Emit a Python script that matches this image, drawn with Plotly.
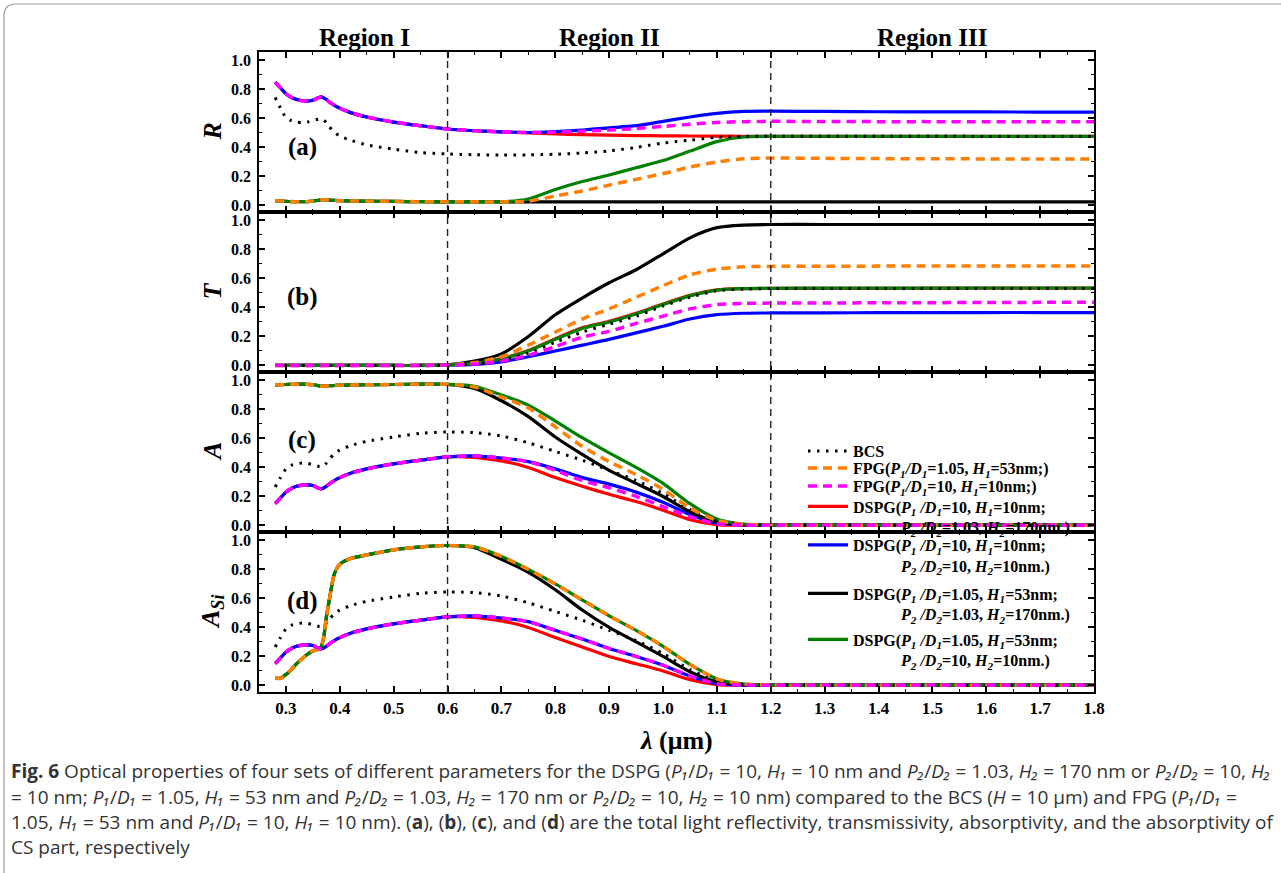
import plotly.graph_objects as go
from plotly.subplots import make_subplots

# ---------------- data ----------------
LAM = [0.28, 0.29, 0.30, 0.31, 0.32, 0.33, 0.34, 0.35, 0.36, 0.365, 0.37, 0.375, 0.38, 0.39,
       0.40, 0.42, 0.45, 0.50, 0.55, 0.60, 0.65, 0.70, 0.75, 0.80, 0.85, 0.90, 0.95, 1.00,
       1.05, 1.10, 1.15, 1.20, 1.30, 1.40, 1.50, 1.60, 1.70, 1.80]

# (a) reflectivity R
R_BCS = [0.745, 0.67, 0.607, 0.585, 0.575, 0.572, 0.575, 0.585, 0.595, 0.597, 0.59, 0.57, 0.545, 0.505,
         0.478, 0.45, 0.418, 0.388, 0.365, 0.355, 0.35, 0.348, 0.349, 0.353, 0.362, 0.376, 0.40, 0.43,
         0.45, 0.47, 0.476, 0.477, 0.477, 0.477, 0.477, 0.476, 0.476, 0.476]
R_FPG1 = [0.032, 0.03, 0.028, 0.027, 0.026, 0.026, 0.027, 0.03, 0.036, 0.04, 0.04, 0.039, 0.037, 0.035,
          0.033, 0.031, 0.03, 0.028, 0.026, 0.025, 0.025, 0.025, 0.03, 0.065, 0.10, 0.14, 0.18, 0.22,
          0.265, 0.30, 0.322, 0.327, 0.325, 0.323, 0.322, 0.321, 0.32, 0.32]
R_FPG2 = [0.85, 0.81, 0.77, 0.745, 0.73, 0.722, 0.72, 0.725, 0.742, 0.748, 0.742, 0.73, 0.715, 0.69,
          0.67, 0.64, 0.61, 0.575, 0.55, 0.527, 0.515, 0.508, 0.503, 0.505, 0.512, 0.52, 0.53, 0.545,
          0.56, 0.572, 0.578, 0.58, 0.579, 0.578, 0.578, 0.577, 0.577, 0.577]
R_DSPG_R = [0.85, 0.81, 0.77, 0.745, 0.73, 0.722, 0.72, 0.725, 0.742, 0.748, 0.742, 0.73, 0.715, 0.69,
            0.67, 0.64, 0.61, 0.575, 0.55, 0.527, 0.515, 0.508, 0.50, 0.493, 0.488, 0.485, 0.482, 0.48,
            0.479, 0.478, 0.477, 0.477, 0.477, 0.477, 0.476, 0.476, 0.476, 0.476]
R_DSPG_B = [0.85, 0.81, 0.77, 0.745, 0.73, 0.722, 0.72, 0.725, 0.742, 0.748, 0.742, 0.73, 0.715, 0.69,
            0.67, 0.64, 0.61, 0.575, 0.55, 0.527, 0.515, 0.508, 0.503, 0.51, 0.52, 0.535, 0.55, 0.58,
            0.61, 0.635, 0.648, 0.65, 0.648, 0.646, 0.645, 0.645, 0.644, 0.644]
R_DSPG_K = [0.032, 0.03, 0.028, 0.027, 0.026, 0.026, 0.027, 0.03, 0.036, 0.04, 0.04, 0.039, 0.037, 0.035,
            0.033, 0.031, 0.03, 0.028, 0.026, 0.025, 0.025, 0.025, 0.025, 0.025, 0.025, 0.025, 0.025, 0.025,
            0.025, 0.025, 0.025, 0.025, 0.025, 0.025, 0.025, 0.025, 0.025, 0.025]
R_DSPG_G = [0.032, 0.03, 0.028, 0.027, 0.026, 0.026, 0.027, 0.03, 0.036, 0.04, 0.04, 0.039, 0.037, 0.035,
            0.033, 0.031, 0.03, 0.028, 0.026, 0.025, 0.025, 0.025, 0.045, 0.11, 0.165, 0.21, 0.26, 0.31,
            0.375, 0.44, 0.472, 0.477, 0.477, 0.477, 0.476, 0.476, 0.476, 0.476]

# (b) transmissivity T
T_BCS = [0.0, 0.0, 0.0, 0.0, 0.0, 0.0, 0.0, 0.0, 0.0, 0.0, 0.0, 0.0, 0.0, 0.0, 0.0, 0.0, 0.0, 0.0, 0.0,
         0.003, 0.01, 0.035, 0.085, 0.16, 0.23, 0.285, 0.34, 0.41, 0.47, 0.515, 0.527, 0.53, 0.53,
         0.53, 0.53, 0.53, 0.53, 0.53]
T_FPG1 = [0.0, 0.0, 0.0, 0.0, 0.0, 0.0, 0.0, 0.0, 0.0, 0.0, 0.0, 0.0, 0.0, 0.0, 0.0, 0.0, 0.0, 0.0, 0.0,
          0.004, 0.02, 0.06, 0.14, 0.23, 0.32, 0.39, 0.47, 0.55, 0.625, 0.665, 0.68, 0.683, 0.684,
          0.685, 0.686, 0.686, 0.686, 0.686]
T_FPG2 = [0.0, 0.0, 0.0, 0.0, 0.0, 0.0, 0.0, 0.0, 0.0, 0.0, 0.0, 0.0, 0.0, 0.0, 0.0, 0.0, 0.0, 0.0, 0.0,
          0.003, 0.01, 0.03, 0.07, 0.13, 0.195, 0.235, 0.29, 0.34, 0.39, 0.42, 0.428, 0.43, 0.431,
          0.432, 0.433, 0.434, 0.435, 0.435]
T_DSPG_R = [0.0, 0.0, 0.0, 0.0, 0.0, 0.0, 0.0, 0.0, 0.0, 0.0, 0.0, 0.0, 0.0, 0.0, 0.0, 0.0, 0.0, 0.0, 0.0,
            0.004, 0.016, 0.047, 0.103, 0.185, 0.26, 0.305, 0.36, 0.424, 0.483, 0.521, 0.53, 0.532, 0.532,
            0.532, 0.533, 0.533, 0.533, 0.533]
T_DSPG_B = [0.0, 0.0, 0.0, 0.0, 0.0, 0.0, 0.0, 0.0, 0.0, 0.0, 0.0, 0.0, 0.0, 0.0, 0.0, 0.0, 0.0, 0.0, 0.0,
            0.003, 0.008, 0.025, 0.06, 0.10, 0.14, 0.18, 0.225, 0.27, 0.32, 0.35, 0.36, 0.362, 0.363,
            0.364, 0.364, 0.365, 0.365, 0.365]
T_DSPG_K = [0.0, 0.0, 0.0, 0.0, 0.0, 0.0, 0.0, 0.0, 0.0, 0.0, 0.0, 0.0, 0.0, 0.0, 0.0, 0.0, 0.0, 0.0, 0.0,
            0.005, 0.03, 0.08, 0.20, 0.35, 0.465, 0.57, 0.66, 0.77, 0.88, 0.95, 0.968, 0.972, 0.972,
            0.972, 0.972, 0.972, 0.972, 0.972]
T_DSPG_G = [0.0, 0.0, 0.0, 0.0, 0.0, 0.0, 0.0, 0.0, 0.0, 0.0, 0.0, 0.0, 0.0, 0.0, 0.0, 0.0, 0.0, 0.0, 0.0,
            0.004, 0.015, 0.045, 0.10, 0.18, 0.255, 0.30, 0.355, 0.42, 0.48, 0.52, 0.53, 0.532, 0.533,
            0.533, 0.533, 0.534, 0.534, 0.534]

# (c) absorptivity A
A_BCS = [0.265, 0.33, 0.39, 0.415, 0.425, 0.43, 0.428, 0.418, 0.408, 0.405, 0.41, 0.43, 0.455, 0.495,
         0.52, 0.55, 0.58, 0.61, 0.635, 0.645, 0.64, 0.617, 0.57, 0.51, 0.45, 0.38, 0.31, 0.22,
         0.11, 0.03, 0.006, 0.003, 0.002, 0.002, 0.002, 0.002, 0.002, 0.002]
A_FPG1 = [0.968, 0.97, 0.972, 0.973, 0.974, 0.974, 0.973, 0.97, 0.964, 0.96, 0.96, 0.961, 0.963, 0.965,
          0.967, 0.969, 0.97, 0.972, 0.974, 0.973, 0.955, 0.885, 0.81, 0.68, 0.545, 0.44, 0.35, 0.25,
          0.12, 0.035, 0.008, 0.003, 0.002, 0.002, 0.002, 0.002, 0.002, 0.002]
A_FPG2 = [0.15, 0.19, 0.23, 0.255, 0.27, 0.278, 0.28, 0.275, 0.258, 0.252, 0.258, 0.27, 0.285, 0.31,
          0.33, 0.36, 0.39, 0.425, 0.45, 0.473, 0.48, 0.465, 0.44, 0.38, 0.31, 0.26, 0.20, 0.13,
          0.06, 0.012, 0.003, 0.002, 0.002, 0.002, 0.002, 0.002, 0.002, 0.002]
A_DSPG_R = [0.15, 0.19, 0.23, 0.255, 0.27, 0.278, 0.28, 0.275, 0.258, 0.252, 0.258, 0.27, 0.285, 0.31,
            0.33, 0.36, 0.39, 0.425, 0.45, 0.473, 0.47, 0.445, 0.40, 0.33, 0.27, 0.215, 0.165, 0.105,
            0.04, 0.006, 0.002, 0.002, 0.002, 0.002, 0.002, 0.002, 0.002, 0.002]
A_DSPG_B = [0.15, 0.19, 0.23, 0.255, 0.27, 0.278, 0.28, 0.275, 0.258, 0.252, 0.258, 0.27, 0.285, 0.31,
            0.33, 0.36, 0.39, 0.425, 0.45, 0.473, 0.48, 0.465, 0.44, 0.39, 0.33, 0.285, 0.23, 0.16,
            0.075, 0.015, 0.004, 0.002, 0.002, 0.002, 0.002, 0.002, 0.002, 0.002]
A_DSPG_K = [0.968, 0.97, 0.972, 0.973, 0.974, 0.974, 0.973, 0.97, 0.964, 0.96, 0.96, 0.961, 0.963, 0.965,
            0.967, 0.969, 0.97, 0.972, 0.974, 0.973, 0.945, 0.86, 0.75, 0.61, 0.49, 0.38, 0.29, 0.20,
            0.095, 0.025, 0.006, 0.003, 0.002, 0.002, 0.002, 0.002, 0.002, 0.002]
A_DSPG_G = [0.968, 0.97, 0.972, 0.973, 0.974, 0.974, 0.973, 0.97, 0.964, 0.96, 0.96, 0.961, 0.963, 0.965,
            0.967, 0.969, 0.97, 0.972, 0.974, 0.973, 0.96, 0.90, 0.83, 0.72, 0.605, 0.50, 0.40, 0.29,
            0.15, 0.045, 0.01, 0.003, 0.002, 0.002, 0.002, 0.002, 0.002, 0.002]

# (d) absorptivity of CS part A_Si
AS_BCS = [0.265, 0.33, 0.39, 0.415, 0.425, 0.43, 0.428, 0.418, 0.408, 0.405, 0.41, 0.43, 0.455, 0.495,
          0.52, 0.55, 0.58, 0.61, 0.635, 0.645, 0.64, 0.617, 0.57, 0.51, 0.45, 0.38, 0.31, 0.22,
          0.11, 0.03, 0.006, 0.003, 0.002, 0.002, 0.002, 0.002, 0.002, 0.002]
AS_FPG1 = [0.05, 0.05, 0.075, 0.11, 0.15, 0.185, 0.215, 0.238, 0.25, 0.265, 0.33, 0.47, 0.58, 0.77,
           0.835, 0.875, 0.90, 0.935, 0.955, 0.965, 0.955, 0.89, 0.80, 0.70, 0.59, 0.48, 0.38, 0.27,
           0.145, 0.045, 0.01, 0.003, 0.002, 0.002, 0.002, 0.002, 0.002, 0.002]
AS_FPG2 = [0.15, 0.19, 0.23, 0.255, 0.27, 0.278, 0.28, 0.275, 0.258, 0.252, 0.258, 0.27, 0.285, 0.31,
           0.33, 0.36, 0.39, 0.425, 0.45, 0.473, 0.48, 0.465, 0.44, 0.38, 0.32, 0.255, 0.20, 0.14,
           0.065, 0.012, 0.003, 0.002, 0.002, 0.002, 0.002, 0.002, 0.002, 0.002]
AS_DSPG_R = [0.15, 0.19, 0.23, 0.255, 0.27, 0.278, 0.28, 0.275, 0.258, 0.252, 0.258, 0.27, 0.285, 0.31,
             0.33, 0.36, 0.39, 0.425, 0.45, 0.473, 0.47, 0.445, 0.40, 0.33, 0.265, 0.20, 0.15, 0.10,
             0.04, 0.006, 0.002, 0.002, 0.002, 0.002, 0.002, 0.002, 0.002, 0.002]
AS_DSPG_B = [0.15, 0.19, 0.23, 0.255, 0.27, 0.278, 0.28, 0.275, 0.258, 0.252, 0.258, 0.27, 0.285, 0.31,
             0.33, 0.36, 0.39, 0.425, 0.45, 0.473, 0.48, 0.465, 0.44, 0.38, 0.32, 0.255, 0.20, 0.14,
             0.065, 0.012, 0.003, 0.002, 0.002, 0.002, 0.002, 0.002, 0.002, 0.002]
AS_DSPG_K = [0.05, 0.05, 0.075, 0.11, 0.15, 0.185, 0.215, 0.238, 0.25, 0.265, 0.33, 0.47, 0.58, 0.77,
             0.835, 0.875, 0.90, 0.935, 0.955, 0.965, 0.95, 0.87, 0.78, 0.66, 0.52, 0.40, 0.30, 0.20,
             0.095, 0.025, 0.006, 0.003, 0.002, 0.002, 0.002, 0.002, 0.002, 0.002]
AS_DSPG_G = [0.05, 0.05, 0.075, 0.11, 0.15, 0.185, 0.215, 0.238, 0.25, 0.265, 0.33, 0.47, 0.58, 0.77,
             0.835, 0.875, 0.90, 0.935, 0.955, 0.965, 0.955, 0.89, 0.80, 0.70, 0.59, 0.48, 0.38, 0.27,
             0.145, 0.045, 0.01, 0.003, 0.002, 0.002, 0.002, 0.002, 0.002, 0.002]

REGION_BOUNDS = [0.6, 1.2]
REGION_NAMES = ["Region I", "Region II", "Region III"]
REGION_CENTERS = [0.445, 0.9, 1.5]
PANEL_LETTERS = ["(a)", "(b)", "(c)", "(d)"]
PANEL_LETTER_Y = [0.40, 0.47, 0.59, 0.58]
Y_TITLES = ["<i>R</i>", "<i>T</i>", "<i>A</i>", "<i>A</i><sub><i>Si</i></sub>"]

NB = "\u00a0"
IND = NB * 12
LEG_NAMES = {
    "BCS": "BCS",
    "FPG1": "FPG(<i>P<sub>1</sub>/D<sub>1</sub></i>=1.05, <i>H<sub>1</sub></i>=53nm;)",
    "FPG2": "FPG(<i>P<sub>1</sub>/D<sub>1</sub></i>=10, <i>H<sub>1</sub></i>=10nm;)",
    "DR": "DSPG(<i>P<sub>1</sub> /D<sub>1</sub></i>=10, <i>H<sub>1</sub></i>=10nm;<br>" + IND +
          "<i>P<sub>2</sub> /D<sub>2</sub></i>=1.03, <i>H<sub>2</sub></i>=170nm.)",
    "DB": "DSPG(<i>P<sub>1</sub> /D<sub>1</sub></i>=10, <i>H<sub>1</sub></i>=10nm;<br>" + IND +
          "<i>P<sub>2</sub> /D<sub>2</sub></i>=10, <i>H<sub>2</sub></i>=10nm.)",
    "DK": "DSPG(<i>P<sub>1</sub> /D<sub>1</sub></i>=1.05, <i>H<sub>1</sub></i>=53nm;<br>" + IND +
          "<i>P<sub>2</sub> /D<sub>2</sub></i>=1.03, <i>H<sub>2</sub></i>=170nm.)",
    "DG": "DSPG(<i>P<sub>1</sub> /D<sub>1</sub></i>=1.05, <i>H<sub>1</sub></i>=53nm;<br>" + IND +
          "<i>P<sub>2</sub> /D<sub>2</sub></i>=10, <i>H<sub>2</sub></i>=10nm.)",
}

# caption (subscript digits written as Unicode subscripts)
P1D1 = "<i>P\u2081</i>/<i>D\u2081</i>"
P2D2 = "<i>P\u2082</i>/<i>D\u2082</i>"
H1 = "<i>H\u2081</i>"
H2 = "<i>H\u2082</i>"
CAPTION = [
    f"<b>Fig. 6</b> Optical properties of four sets of different parameters for the DSPG ({P1D1} = 10, "
    f"{H1} = 10 nm and {P2D2} = 1.03, {H2} = 170 nm or {P2D2} = 10, {H2}",
    f"= 10 nm; {P1D1} = 1.05, {H1} = 53 nm and {P2D2} = 1.03, {H2} = 170 nm or {P2D2} = 10, {H2} = 10 nm) "
    f"compared to the BCS (<i>H</i> = 10 μm) and FPG ({P1D1} =",
    f"1.05, {H1} = 53 nm and {P1D1} = 10, {H1} = 10 nm). (<b>a</b>), (<b>b</b>), (<b>c</b>), and (<b>d</b>) "
    "are the total light reflectivity, transmissivity, absorptivity, and the absorptivity of",
    "CS part, respectively",
]

# ---------------- styles / geometry ----------------
W, H = 1281, 873
PL, PR, PT, PB = 259, 1094, 52, 692


def px2x(px):
    return (px - PL) / (PR - PL)


def py2y(py):
    return (PB - py) / (PB - PT)


STYLE = {
    "BCS": dict(color="black", width=3, dash="2.5px,6.5px"),
    "FPG1": dict(color="#ff8000", width=3.5, dash="9px,6px"),
    "FPG2": dict(color="#ff00ff", width=3.5, dash="9px,6px"),
    "DR": dict(color="#ff0000", width=3.2),
    "DB": dict(color="#0000ff", width=3.2),
    "DK": dict(color="#000000", width=3.2),
    "DG": dict(color="#008000", width=3.2),
}
PANELS = [
    {"DR": R_DSPG_R, "DB": R_DSPG_B, "DK": R_DSPG_K, "DG": R_DSPG_G, "BCS": R_BCS, "FPG1": R_FPG1, "FPG2": R_FPG2},
    {"DR": T_DSPG_R, "DB": T_DSPG_B, "DK": T_DSPG_K, "DG": T_DSPG_G, "BCS": T_BCS, "FPG1": T_FPG1, "FPG2": T_FPG2},
    {"DR": A_DSPG_R, "DB": A_DSPG_B, "DK": A_DSPG_K, "DG": A_DSPG_G, "BCS": A_BCS, "FPG1": A_FPG1, "FPG2": A_FPG2},
    {"DR": AS_DSPG_R, "DB": AS_DSPG_B, "DK": AS_DSPG_K, "DG": AS_DSPG_G, "BCS": AS_BCS, "FPG1": AS_FPG1, "FPG2": AS_FPG2},
]
DRAW_ORDER = ["DR", "DB", "DK", "DG", "BCS", "FPG1", "FPG2"]
LEG_ORDER = ["BCS", "FPG1", "FPG2", "DR", "DB", "DK", "DG"]
LEG_Y_PX = {"BCS": 451, "FPG1": 468, "FPG2": 486, "DR": 517, "DB": 555.5, "DK": 604, "DG": 650}

SERIF = "Liberation Serif"

fig = make_subplots(rows=4, cols=1, shared_xaxes=True, vertical_spacing=0)

for r, panel in enumerate(PANELS, start=1):
    for key in DRAW_ORDER:
        leg_idx = LEG_ORDER.index(key) + 1
        fig.add_trace(go.Scatter(
            x=LAM, y=panel[key], mode="lines",
            line=dict(shape="spline", smoothing=0.7, **STYLE[key]),
            name=LEG_NAMES[key], showlegend=(r == 3),
            legend="legend" if leg_idx == 1 else f"legend{leg_idx}",
            hoverinfo="skip",
        ), row=r, col=1)

tickfont = dict(family=SERIF, size=16, color="black", weight="bold")
fig.update_yaxes(range=[-0.045, 1.058], tick0=0, dtick=0.2, tickformat=".1f",
                 ticks="inside", ticklen=6, tickwidth=1.5, tickcolor="black",
                 minor=dict(dtick=0.1, ticks="inside", ticklen=3, tickwidth=1.2, tickcolor="black"),
                 showline=True, linewidth=1.5, linecolor="black", mirror="ticks",
                 showgrid=False, zeroline=False, tickfont=tickfont, ticklabelstandoff=3)
fig.update_xaxes(range=[0.25, 1.8], tick0=0.3, dtick=0.1, tickformat=".1f",
                 ticks="inside", ticklen=6, tickwidth=1.5, tickcolor="black",
                 minor=dict(dtick=0.05, ticks="inside", ticklen=3, tickwidth=1.2, tickcolor="black"),
                 showline=True, linewidth=1.5, linecolor="black", mirror="ticks",
                 showgrid=False, zeroline=False, tickfont=dict(family=SERIF, size=17, color="black", weight="bold"))

# region boundaries
for xb in REGION_BOUNDS:
    fig.add_shape(type="line", xref="x", yref="paper", x0=xb, x1=xb, y0=0, y1=1,
                  line=dict(color="#222222", width=1.4, dash="7px,5px"), layer="above")

annotations = []
for name, xc in zip(REGION_NAMES, REGION_CENTERS):
    annotations.append(dict(text=f"<b>{name}</b>", x=xc, xref="x", xanchor="center",
                            y=py2y(37), yref="paper", yanchor="middle",
                            showarrow=False, font=dict(family=SERIF, size=25, color="black")))
for i, (lab, yv) in enumerate(zip(PANEL_LETTERS, PANEL_LETTER_Y)):
    yref = "y" if i == 0 else f"y{i + 1}"
    annotations.append(dict(text=f"<b>{lab}</b>", x=0.33, xref="x", xanchor="center",
                            y=yv, yref=yref, yanchor="middle",
                            showarrow=False, font=dict(family=SERIF, size=25, color="black")))
panel_centers_px = [131.5, 291.5, 452, 612]
for t, cy in zip(Y_TITLES, panel_centers_px):
    annotations.append(dict(text=f"<b>{t}</b>", x=px2x(212), xref="paper", xanchor="center",
                            y=py2y(cy), yref="paper", yanchor="middle",
                            textangle=-90, showarrow=False,
                            font=dict(family=SERIF, size=26, color="black")))
annotations.append(dict(text="<b><i>λ</i> (μm)</b>", x=0.5, xref="paper", xanchor="center",
                        y=py2y(740), yref="paper", yanchor="middle",
                        showarrow=False, font=dict(family=SERIF, size=26, color="black")))
for line, cy in zip(CAPTION, [771, 796.5, 822, 847]):
    annotations.append(dict(text=line, x=px2x(9), xref="paper", xanchor="left", y=py2y(cy), yref="paper",
                            yanchor="middle", showarrow=False, align="left",
                            font=dict(family="Open Sans", size=19, color="#333333")))

# rounded frame around the figure (left / top edges visible)
frame = (f"M {px2x(4)},{py2y(900)} L {px2x(4)},{py2y(16)} "
         f"Q {px2x(4)},{py2y(4)} {px2x(16)},{py2y(4)} L {px2x(1300)},{py2y(4)}")
fig.add_shape(type="path", xref="paper", yref="paper", path=frame,
              line=dict(color="#9a9a9a", width=1.2))

layout_legends = {}
for i, key in enumerate(LEG_ORDER, start=1):
    lname = "legend" if i == 1 else f"legend{i}"
    layout_legends[lname] = dict(
        x=px2x(803), xanchor="left", y=py2y(LEG_Y_PX[key]), yanchor="middle",
        bgcolor="rgba(0,0,0,0)", borderwidth=0, itemwidth=40, valign="top",
        font=dict(family=SERIF, size=16, color="black", weight="bold"),
        tracegroupgap=0, itemclick=False, itemdoubleclick=False,
    )

fig.update_layout(
    width=W, height=H,
    margin=dict(l=PL, r=W - PR, t=PT, b=H - PB, pad=0),
    paper_bgcolor="white", plot_bgcolor="white",
    annotations=annotations,
    **layout_legends,
)

fig.write_html("out.html", config={"displayModeBar": False},
               post_script="document.body.style.margin='0';document.body.style.overflow='hidden';")
